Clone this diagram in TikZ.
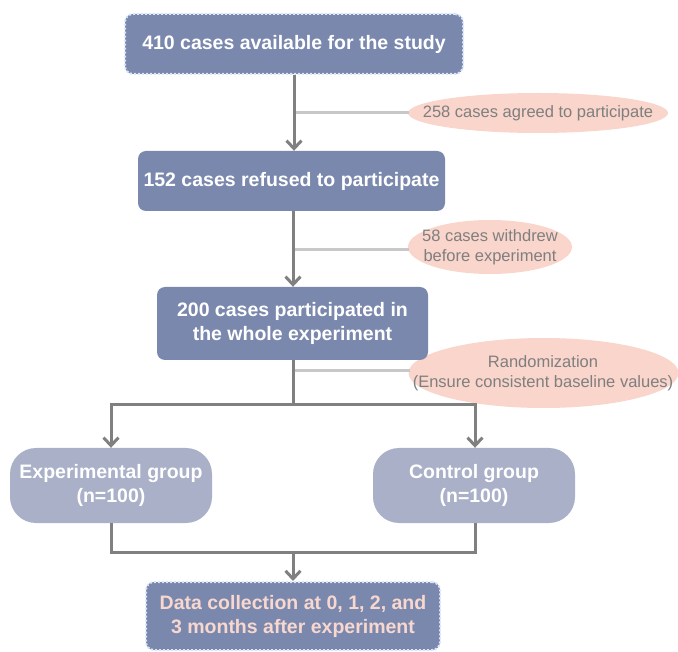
\documentclass[tikz,border=0pt]{standalone}
\usepackage{fontspec}
\setmainfont{Liberation Sans}
\usetikzlibrary{arrows.meta,shapes.geometric}
\definecolor{boxblue}{HTML}{7A88AE}
\definecolor{boxlight}{HTML}{A9B0C8}
\definecolor{dotblue}{HTML}{DCE6F8}
\definecolor{ellfill}{HTML}{F9D5CB}
\definecolor{linegray}{HTML}{808080}
\definecolor{lightline}{HTML}{C8C8C8}
\definecolor{txtgray}{HTML}{7F7F7F}
\definecolor{txtpink}{HTML}{F8D8CE}
\tikzset{
  mainbox/.style={fill=boxblue, rounded corners=8pt, text=white, font=\bfseries\fontsize{19.5}{24}\selectfont, align=center, inner sep=0pt},
  dotbox/.style={mainbox, draw=dotblue, line width=2pt, dotted},
  groupbox/.style={fill=boxlight, rounded corners=26pt, text=white, font=\bfseries\fontsize{19.5}{24}\selectfont, align=center, inner sep=0pt, minimum width=202pt, minimum height=75pt},
  notetext/.style={text=txtgray, font=\fontsize{16.5}{20}\selectfont, align=center, inner sep=0pt},
  flow/.style={draw=linegray, line width=3pt, -{Straight Barb[length=8pt,width=15pt,line width=3pt]}},
  plain/.style={draw=linegray, line width=3pt},
  side/.style={draw=lightline, line width=3pt},
}
\begin{document}
\begin{tikzpicture}[x=1pt,y=-1pt]
\useasboundingbox (0,0) rectangle (678,652);
% ellipses
\fill[ellfill] (538,113) ellipse [x radius=130, y radius=20];
\fill[ellfill] (490,247) ellipse [x radius=82, y radius=27];
\fill[ellfill] (543.5,373) ellipse [x radius=135, y radius=35];
% nodes
\node[dotbox, minimum width=338pt, minimum height=60pt] (n1) at (294,44) {410 cases available for the study};
\node[mainbox, minimum width=307pt, minimum height=60pt] (n2) at (291.5,181) {152 cases refused to participate};
\node[mainbox, minimum width=271pt, minimum height=73pt] (n3) at (292.5,323.5) {200 cases participated in\\the whole experiment};
\node[groupbox] (g1) at (111,485.5) {Experimental group\\(n=100)};
\node[groupbox] (g2) at (474,485.5) {Control group\\(n=100)};
\node[dotbox, minimum width=294pt, minimum height=68pt, text=txtpink] (n4) at (293,616) {Data collection at 0, 1, 2, and\\3 months after experiment};
\node[notetext] (e1) at (538,113) {258 cases agreed to participate};
\node[notetext] (e2) at (490,247) {58 cases withdrew\\before experiment};
\node[notetext] (e3) at (543,373) {Randomization\\(Ensure consistent baseline values)};
% coordinates
\coordinate (c1) at (294,113);
\coordinate (e1w) at (409,113);
\coordinate (c2) at (293,250);
\coordinate (e2w) at (409,250);
\coordinate (c3) at (293,371);
\coordinate (e3w) at (410,371);
\coordinate (s) at (293,405);
\coordinate (sl) at (111,405);
\coordinate (sr) at (475,405);
\coordinate (j) at (293,552);
\coordinate (jl) at (111,552);
\coordinate (jr) at (475,552);
% connectors
\draw[side] (c1) -- (e1w);
\draw[side] (c2) -- (e2w);
\draw[side] (c3) -- (e3w);
\draw[flow] (n1.south -| c1) -- (n2.north -| c1);
\draw[flow] (n2.south -| c2) -- (n3.north -| c2);
\draw[plain] (n3.south -| s) -- (s);
\draw[flow] (sl) -- (g1.north -| sl);
\draw[flow] (sr) -- (g2.north -| sr);
\draw[plain, line cap=rect] (sl) -- (sr);
\draw[plain, line join=miter] (g1.south -| jl) -- (jl) -- (jr) -- (g2.south -| jr);
\draw[flow] (j) -- (n4.north -| j);
\end{tikzpicture}
\end{document}
